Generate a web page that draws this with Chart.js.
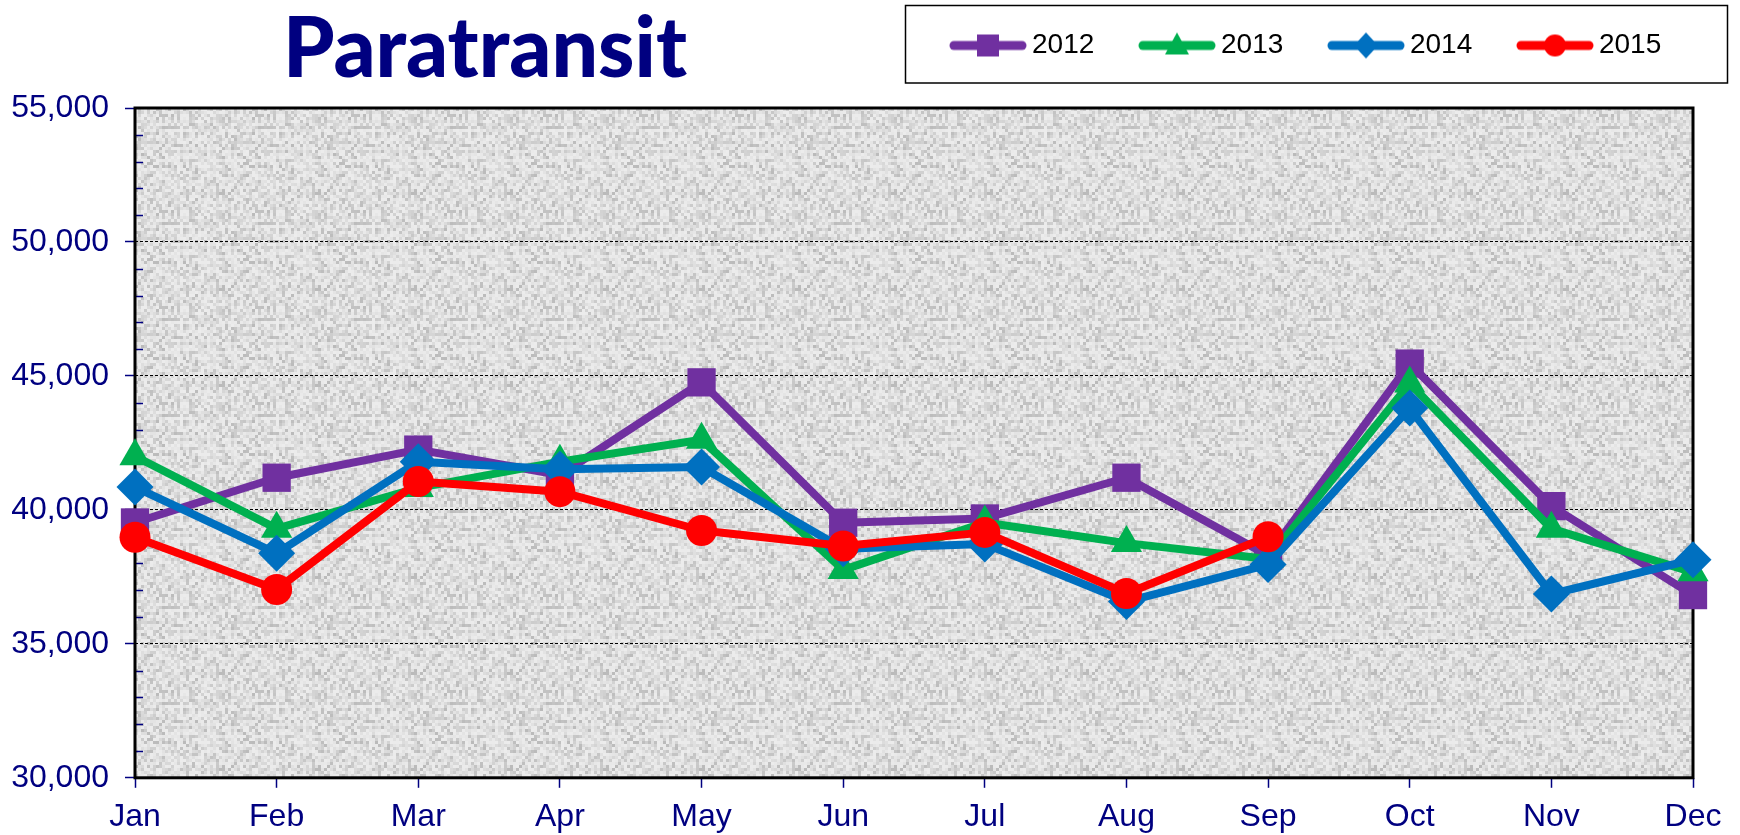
<!DOCTYPE html>
<html>
<head>
<meta charset="utf-8">
<script src="https://cdn.jsdelivr.net/npm/chart.js@4.4.0/dist/chart.umd.min.js"></script>
<style>
  html, body { margin: 0; padding: 0; background: #ffffff; }
  #wrap { width: 1740px; height: 835px; position: relative; }
</style>
</head>
<body>
<div id="wrap"><canvas id="c"></canvas></div>
<script>
// ---- data ----
const months = ['Jan', 'Feb', 'Mar', 'Apr', 'May', 'Jun', 'Jul', 'Aug', 'Sep', 'Oct', 'Nov', 'Dec'];
const seriesNames = ['2012', '2013', '2014', '2015'];
const values2012 = [39530, 41200, 42250, 41300, 44760, 39520, 39680, 41200, 38300, 45460, 40140, 36820];
const values2013 = [42000, 39300, 40820, 41800, 42620, 37760, 39530, 38760, 38170, 44720, 39300, 37670];
const values2014 = [40850, 38380, 41800, 41520, 41600, 38550, 38730, 36580, 37960, 43800, 36860, 38140];
const values2015 = [38980, 37030, 41060, 40680, 39230, 38650, 39160, 36880, 39000, null, null, null];
const yTickValues = [30000, 35000, 40000, 45000, 50000, 55000];
const yMinorStep = 1000;
const chartTitle = 'Paratransit';

// ---- styles ----
const FONT = "'Liberation Sans', Arial, sans-serif";
const NAVY = '#000080';
const colors = ['#7030A0', '#00B050', '#0070C0', '#FF0000'];
const styles = ['rect', 'triangle', 'rectRot', 'circle'];
const radii = [20, 18, 18.5, 15.5];

function makeLegendIcon(color, style) {
  const cv = document.createElement('canvas');
  cv.width = 80; cv.height = 30;
  const g = cv.getContext('2d');
  g.strokeStyle = color; g.fillStyle = color;
  g.lineWidth = 9; g.lineCap = 'round';
  g.beginPath(); g.moveTo(6, 15); g.lineTo(74, 15); g.stroke();
  const cx = 40, cy = 15;
  g.beginPath();
  if (style === 'rect') { g.rect(cx - 11, cy - 11, 22, 22); }
  else if (style === 'triangle') { g.moveTo(cx, cy - 13); g.lineTo(cx + 12, cy + 9); g.lineTo(cx - 12, cy + 9); g.closePath(); }
  else if (style === 'rectRot') { g.moveTo(cx, cy - 13); g.lineTo(cx + 12, cy); g.lineTo(cx, cy + 13); g.lineTo(cx - 12, cy); g.closePath(); }
  else { g.arc(cx, cy, 11, 0, Math.PI * 2); }
  g.fill();
  return cv;
}
const legendIcons = colors.map((c, i) => makeLegendIcon(c, styles[i]));

// deterministic speckle texture for the plot background
function makeTexture() {
  const cv = document.createElement('canvas');
  const n = 96, b = 3;
  cv.width = n; cv.height = n;
  const g = cv.getContext('2d');
  for (let yy = 0; yy < n; yy += b) {
    for (let xx = 0; xx < n; xx += b) {
      const h = Math.abs(Math.sin(xx * 12.9898 + yy * 78.233) * 43758.5453) % 1;
      const v = Math.round(236 - h * h * 50);
      g.fillStyle = 'rgb(' + v + ',' + v + ',' + v + ')';
      g.fillRect(xx, yy, b, b);
    }
  }
  return cv;
}
const textureCanvas = makeTexture();

const allValues = [values2012, values2013, values2014, values2015];
const datasets = allValues.map((vals, i) => ({
  label: seriesNames[i],
  data: vals,
  borderColor: colors[i],
  backgroundColor: colors[i],
  borderWidth: 8,
  borderJoinStyle: 'round',
  borderCapStyle: 'round',
  pointStyle: styles[i],
  pointRadius: radii[i],
  pointHoverRadius: radii[i],
  pointBorderWidth: 0,
  pointBackgroundColor: colors[i],
  tension: 0,
  clip: false,
  spanGaps: false,
  order: 3 - i
}));

const plotDecor = {
  id: 'plotDecor',
  beforeDraw(chart) {
    const { ctx, chartArea: a } = chart;
    ctx.save();
    ctx.fillStyle = '#ffffff';
    ctx.fillRect(0, 0, chart.width, chart.height);
    ctx.fillStyle = ctx.createPattern(textureCanvas, 'repeat');
    ctx.fillRect(a.left, a.top, a.right - a.left, a.bottom - a.top);
    // legend frame
    ctx.strokeStyle = '#000000';
    ctx.lineWidth = 1.5;
    ctx.strokeRect(905.5, 5.5, 822, 77.5);
    ctx.restore();
  },
  beforeDatasetsDraw(chart) {
    const { ctx, chartArea: a } = chart;
    const ys = chart.scales.y;
    ctx.save();
    ctx.strokeStyle = NAVY;
    ctx.lineWidth = 1.5;
    for (let v = ys.min + yMinorStep; v < ys.max; v += yMinorStep) {
      if (v % 5000 === 0) continue;
      const py = Math.round(ys.getPixelForValue(v)) + 0.5;
      ctx.beginPath(); ctx.moveTo(a.left, py); ctx.lineTo(a.left + 8, py); ctx.stroke();
    }
    ctx.strokeStyle = '#000000';
    ctx.lineWidth = 3;
    ctx.strokeRect(a.left, a.top, a.right - a.left, a.bottom - a.top);
    ctx.restore();
  },
  afterLayout(chart) {
    const t = chart.titleBlock;
    if (t) {
      const cx = 485, w = 404, h = t.height;
      t.left = cx - w / 2; t.right = cx + w / 2; t.width = w;
      t.top = 9; t.bottom = t.top + h;
    }
    const l = chart.legend;
    if (l) {
      l.left = 905.3; l.right = 1727.8; l.width = l.right - l.left;
      l.top = -21.2; l.bottom = 84; l.height = l.bottom - l.top;
    }
  }
};

new Chart(document.getElementById('c'), {
  type: 'line',
  data: { labels: months, datasets },
  options: {
    responsive: true,
    maintainAspectRatio: false,
    animation: false,
    devicePixelRatio: 1,
    layout: { padding: { left: 11, right: 47, top: 0, bottom: 0 } },
    plugins: {
      tooltip: { enabled: false },
      title: {
        display: true,
        text: chartTitle,
        color: NAVY,
        font: { family: 'Lato', size: 83, weight: '900', lineHeight: 1 },
        padding: 0
      },
      legend: {
        display: true,
        position: 'top',
        align: 'start',
        maxHeight: 25,
        labels: {
          usePointStyle: true,
          pointStyleWidth: 60,
          padding: 52.7,
          color: '#000000',
          font: { family: FONT, size: 28 },
          sort: (a, b) => a.datasetIndex - b.datasetIndex,
          generateLabels(chart) {
            const items = Chart.defaults.plugins.legend.labels.generateLabels(chart);
            items.forEach((it) => { it.pointStyle = legendIcons[it.datasetIndex]; it.lineWidth = 0; });
            return items;
          }
        }
      }
    },
    scales: {
      x: {
        offset: false,
        afterFit(scale) { scale.height = 57.2; },
        ticks: { color: NAVY, font: { family: FONT, size: 32, lineHeight: 1.1 }, padding: 12, maxRotation: 0, autoSkip: false },
        grid: { drawOnChartArea: false, drawTicks: true, tickLength: 10, tickColor: NAVY, tickWidth: 1.5, tickBorderDash: [] },
        border: { display: false }
      },
      y: {
        min: 30000,
        max: 55000,
        afterFit(scale) { scale.width = 124; },
        afterBuildTicks(scale) { scale.ticks = yTickValues.map(v => ({ value: v })); },
        ticks: {
          color: NAVY,
          font: { family: FONT, size: 32 },
          padding: 16,
          callback: (v) => Number(v).toLocaleString('en-US')
        },
        grid: {
          color: (c) => (c.tick && (c.tick.value === 30000 || c.tick.value === 55000)) ? 'rgba(0,0,0,0)' : '#000000',
          lineWidth: 1,
          tickLength: 10,
          tickColor: NAVY,
          tickWidth: 1.5,
          tickBorderDash: []
        },
        border: { display: false, dash: [3, 2] }
      }
    }
  },
  plugins: [plotDecor]
});
</script>
</body>
</html>
